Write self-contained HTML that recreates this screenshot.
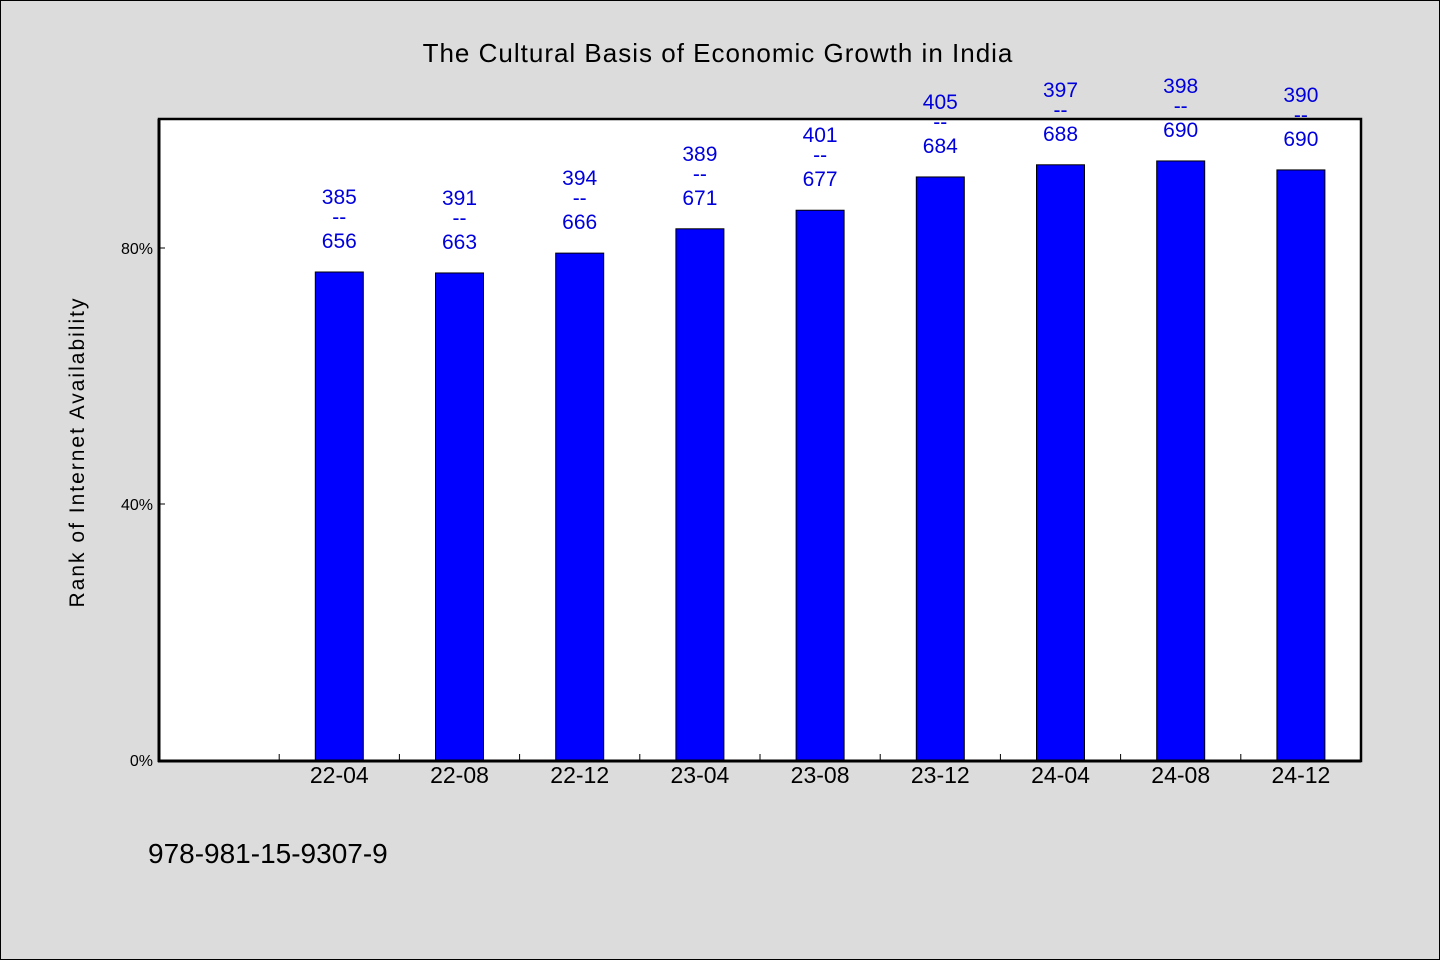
<!DOCTYPE html>
<html><head><meta charset="utf-8"><style>
html,body{margin:0;padding:0;background:#dcdcdc;}
svg{display:block;font-family:"WenQuanYi Zen Hei","Liberation Sans",sans-serif;}
</style></head><body>
<svg width="1440" height="960" xmlns="http://www.w3.org/2000/svg">
<rect x="0.5" y="0.5" width="1439" height="959" fill="#dcdcdc" stroke="#000" stroke-width="1"/>
<text x="718" y="62" font-size="26" text-anchor="middle" fill="#000" letter-spacing="1">The Cultural Basis of Economic Growth in India</text>
<rect x="159" y="119" width="1202" height="642" fill="#fff"/>
<g id="bars"></g>
<g id="labels"></g>
<g id="axes"></g>
<rect x="159" y="119" width="1202" height="642" fill="none" stroke="#000" stroke-width="2.5"/>
<text transform="translate(84,452) rotate(-90)" font-size="21" text-anchor="middle" fill="#000" letter-spacing="2">Rank of Internet Availability</text>
<text x="148" y="863" font-size="28" fill="#000">978-981-15-9307-9</text>
</svg>
<script>
const categories = ["22-04","22-08","22-12","23-04","23-08","23-12","24-04","24-08","24-12"];
const values = [76.25, 76.1, 79.2, 83.0, 85.9, 91.1, 93.0, 93.6, 92.2];
const topLabels = ["385","391","394","389","401","405","397","398","390"];
const bottomLabels = ["656","663","666","671","677","684","688","690","690"];
const yTicks = [0, 40, 80];
const yTickLabels = ["0%","40%","80%"];

const NS = "http://www.w3.org/2000/svg";
const X0 = 159, X1 = 1361, Y0 = 760, PXPER = 6.4;
const slot = (X1 - X0) / 10;
function xScale(i){ return X0 + slot * (i + 1.5); }
function yScale(v){ return Y0 - v * PXPER; }
function mk(tag, attrs, parent){ const e = document.createElementNS(NS, tag); for (const k in attrs) e.setAttribute(k, attrs[k]); parent.appendChild(e); return e; }

const bars = document.getElementById('bars');
const labels = document.getElementById('labels');
const axes = document.getElementById('axes');

values.forEach((v, i) => {
  const cx = xScale(i), top = yScale(v);
  const r = mk('rect', {x: cx - 24, y: top, width: 48, height: Y0 - top, fill: '#0000ff', stroke: '#000', 'stroke-width': 1}, bars);
  
  
  const t1 = mk('text', {x: cx, y: top - 68, 'font-size': 21, 'text-anchor': 'middle', fill: '#0000dd'}, labels);
  t1.textContent = topLabels[i];
  
  
  const t2 = mk('text', {x: cx, y: top - 48, 'font-size': 21, 'text-anchor': 'middle', fill: '#0000dd'}, labels);
  t2.textContent = '--';
  
  
  const t3 = mk('text', {x: cx, y: top - 24, 'font-size': 21, 'text-anchor': 'middle', fill: '#0000dd'}, labels);
  t3.textContent = bottomLabels[i];
  
  
  const xl = mk('text', {x: cx, y: 783, 'font-size': 23, 'text-anchor': 'middle', fill: '#000'}, axes);
  xl.textContent = categories[i];
  
  
});
for (let i = 1; i < 10; i++) {
  const tx = X0 + slot * i;
  const tk = mk('line', {x1: tx, x2: tx, y1: Y0, y2: Y0 - 6, stroke: '#000', 'stroke-width': 1}, axes);
  
  
}
yTicks.forEach((v, i) => {
  const y = yScale(v);
  const tk = mk('line', {x1: X0, x2: X0 + 6, y1: y, y2: y, stroke: '#000', 'stroke-width': 1}, axes);
  
  
  const tl = mk('text', {x: 153, y: y + 6, 'font-size': 16, 'text-anchor': 'end', fill: '#000'}, axes);
  tl.textContent = yTickLabels[i];
  
  
});
const ax1 = mk('line', {x1: X0, x2: X0, y1: 119, y2: 762, stroke: '#000', 'stroke-width': 3}, axes);


const ax2 = mk('line', {x1: X0 - 1, x2: X1, y1: 761, y2: 761, stroke: '#000', 'stroke-width': 3}, axes);


</script>
</body></html>
